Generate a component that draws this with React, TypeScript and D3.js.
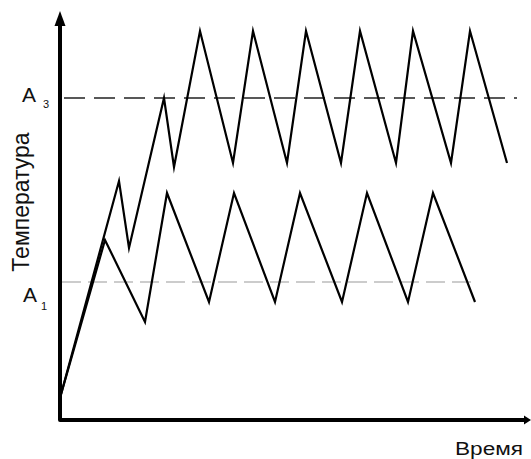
import React from "react";
import * as d3 from "d3";

// Time / temperature in arbitrary units
const lowerTime = [0, 4.5, 8.5, 10.7, 14.9, 17.4, 21.5, 24.0, 28.2, 30.7, 34.8, 37.3, 41.5];
const lowerTemp = [2.2, 18.0, 9.8, 22.7, 11.8, 22.7, 11.8, 22.7, 11.8, 22.7, 11.8, 22.7, 11.8];

const upperTime = [0, 5.9, 6.9, 10.4, 11.4, 14.0, 17.3, 19.3, 22.7, 24.6, 28.1, 30.0, 33.6, 35.3, 39.1, 41.0, 44.7];
const upperTemp = [2.2, 23.9, 17.2, 32.2, 25.3, 38.9, 25.7, 38.9, 25.7, 38.9, 25.7, 38.9, 25.7, 38.9, 25.7, 38.9, 25.7];

const levelA3 = 32.2;
const levelA1 = 13.8;
const a3End = 45.7;
const a1End = 41.5;

const yLabel = "Температура";
const xLabel = "Время";

const W = 531;
const H = 459;

export default function App() {
  const x = d3.scaleLinear().domain([0, 47]).range([60, 530]);
  const y = d3.scaleLinear().domain([0, 41]).range([420, 10]);

  const line = d3
    .line<[number, number]>()
    .x((d) => x(d[0]))
    .y((d) => y(d[1]))
    .curve(d3.curveLinear);

  const lower = lowerTime.map((t, i) => [t, lowerTemp[i]] as [number, number]);
  const upper = upperTime.map((t, i) => [t, upperTemp[i]] as [number, number]);

  const x0 = x(0);
  const y0 = y(0);
  const xEnd = x(47) + 1;
  const yTop = y(41);

  return (
    <svg
      width={W}
      height={H}
      style={{ position: "absolute", left: 0, top: 0, background: "#fff" }}
      fontFamily="'Liberation Sans', Arial, sans-serif"
    >
      {/* reference lines */}
      <line
        x1={x0 + 4}
        x2={x(a3End)}
        y1={y(levelA3)}
        y2={y(levelA3)}
        stroke="#222"
        strokeWidth={1.4}
        strokeDasharray="21 9"
      />
      <line
        x1={x0 + 2}
        x2={x(a1End)}
        y1={y(levelA1)}
        y2={y(levelA1)}
        stroke="#999"
        strokeWidth={1}
        strokeDasharray="19 7"
      />

      {/* curves */}
      <path d={line(upper) || ""} fill="none" stroke="#000" strokeWidth={2.2} strokeLinejoin="miter" strokeMiterlimit={10} />
      <path d={line(lower) || ""} fill="none" stroke="#000" strokeWidth={2.2} strokeLinejoin="miter" strokeMiterlimit={10} />

      {/* axes */}
      <path
        d={`M${x0},${yTop + 12} L${x0},${y0} L${xEnd - 5},${y0}`}
        fill="none"
        stroke="#000"
        strokeWidth={4}
        strokeLinejoin="round"
      />
      <path d={`M${x0},${yTop + 1} L${x0 - 5.5},${yTop + 16} L${x0 + 5.5},${yTop + 16} Z`} fill="#000" />
      <path d={`M${xEnd},${y0} L${xEnd - 7},${y0 - 4.5} L${xEnd - 7},${y0 + 4.5} Z`} fill="#000" />

      {/* labels */}
      <text x={22} y={102} fontSize={21} fill="#111">A</text>
      <text x={43} y={108} fontSize={11} fill="#111">3</text>
      <text x={23} y={302} fontSize={21} fill="#111">A</text>
      <text x={41} y={310} fontSize={11} fill="#111">1</text>

      <text
        transform={`translate(29,${202}) rotate(-90)`}
        textAnchor="middle"
        fontSize={23}
        fill="#111"
      >
        {yLabel}
      </text>
      <text x={455} y={455} fontSize={18} fill="#111" textLength={68} lengthAdjust="spacingAndGlyphs">
        {xLabel}
      </text>
    </svg>
  );
}
